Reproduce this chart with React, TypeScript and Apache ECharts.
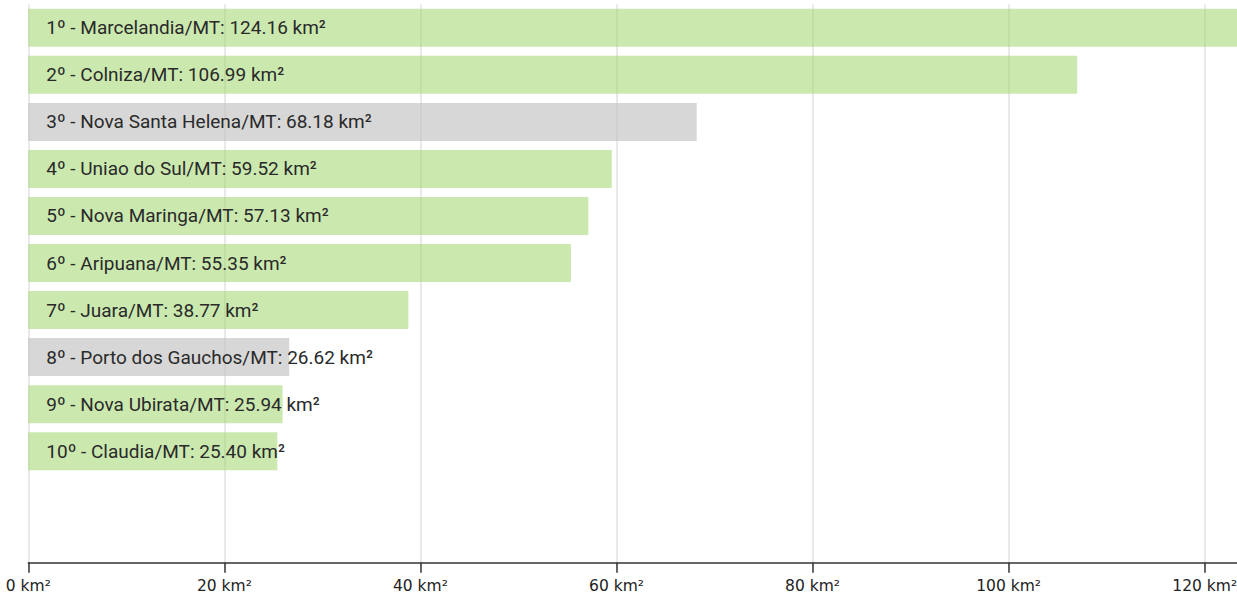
import React, { useEffect, useRef } from "react";
import * as echarts from "echarts";

const cities = [
  "Marcelandia/MT",
  "Colniza/MT",
  "Nova Santa Helena/MT",
  "Uniao do Sul/MT",
  "Nova Maringa/MT",
  "Aripuana/MT",
  "Juara/MT",
  "Porto dos Gauchos/MT",
  "Nova Ubirata/MT",
  "Claudia/MT",
];
const areas = [124.16, 106.99, 68.18, 59.52, 57.13, 55.35, 38.77, 26.62, 25.94, 25.4];
const highlighted = [false, false, true, false, false, false, false, true, false, false];
const emptySlots = ["", ""];

const GREEN = "rgba(160, 215, 110, 0.55)";
const GRAY = "rgba(190, 190, 190, 0.62)";

export default function App() {
  const ref = useRef<HTMLDivElement>(null);
  useEffect(() => {
    if (!ref.current) return;
    const chart = echarts.init(ref.current, undefined, { renderer: "svg" });
    const categories = [...cities, ...emptySlots];
    chart.setOption({
      animation: false,
      grid: {
        left: 28.3,
        right: 4.5,
        top: 4.3,
        bottom: 23.2,
        containLabel: false,
        outerBoundsMode: "none",
      },
      xAxis: {
        type: "value",
        min: 0,
        max: 124.16,
        interval: 20,
        offset: -6,
        axisLine: { show: true, lineStyle: { color: "#333", width: 1.5 } },
        axisTick: { show: true, length: 10, lineStyle: { color: "#333", width: 1.5 } },
        axisLabel: {
          formatter: "{value} km²",
          color: "#222",
          fontSize: 15.5,
          fontFamily: "DejaVu Sans, Verdana, sans-serif",
          margin: 15.5,
          showMaxLabel: false,
        },
        splitLine: { show: true, lineStyle: { color: "#e2e2e2", width: 1.5 } },
      },
      yAxis: {
        type: "category",
        inverse: true,
        data: categories,
        axisLine: { show: false },
        axisTick: { show: false },
        axisLabel: { show: false },
        splitLine: { show: false },
      },
      series: [
        {
          type: "bar",
          barWidth: 38,
          data: areas.map((v, i) => ({
            value: v,
            name: cities[i],
            itemStyle: { color: highlighted[i] ? GRAY : GREEN },
          })),
          label: {
            show: true,
            position: "insideLeft",
            distance: 18,
            color: "#2a2a2a",
            fontSize: 19,
            fontFamily: "Roboto, sans-serif",
            formatter: (p: any) =>
              `${p.dataIndex + 1}º - ${p.name}: ${Number(p.value).toFixed(2)} km²`,
          },
        },
      ],
    });
    return () => chart.dispose();
  }, []);
  return (
    <div style={{ position: "fixed", left: 0, top: 0, width: 1237, height: 592, overflow: "hidden", background: "#fff" }}>
      <div ref={ref} style={{ width: 1250, height: 592 }} />
    </div>
  );
}
